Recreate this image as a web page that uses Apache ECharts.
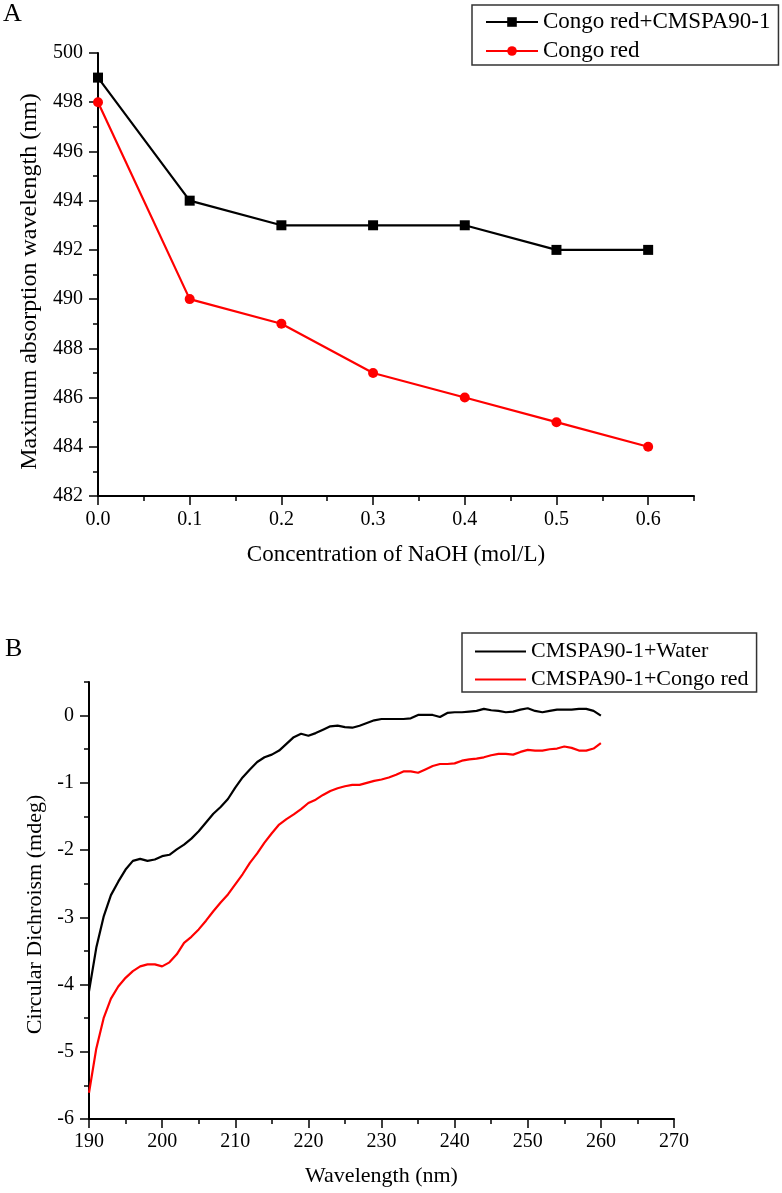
<!DOCTYPE html>
<html>
<head>
<meta charset="utf-8">
<script src="https://cdn.jsdelivr.net/npm/echarts@6/dist/echarts.min.js"></script>
<style>
  html, body { margin: 0; padding: 0; background: #fff; }
  #chart { width: 782px; height: 1193px; }
</style>
</head>
<body>
<div id="chart"></div>
<script>
// panel A : max absorption wavelength vs NaOH
var naoh = [0, 0.1, 0.2, 0.3, 0.4, 0.5, 0.6];
var congoCmspa = [499, 494, 493, 493, 493, 492, 492];
var congoOnly = [498, 490, 489, 487, 486, 485, 484];
var naohTicks = [0, 0.1, 0.2, 0.3, 0.4, 0.5, 0.6];

// panel B : CD spectra
var wavelength = [190, 191, 192, 193, 194, 195, 196, 197, 198, 199,
  200, 201, 202, 203, 204, 205, 206, 207, 208, 209,
  210, 211, 212, 213, 214, 215, 216, 217, 218, 219,
  220, 221, 222, 223, 224, 225, 226, 227, 228, 229,
  230, 231, 232, 233, 234, 235, 236, 237, 238, 239,
  240, 241, 242, 243, 244, 245, 246, 247, 248, 249,
  250, 251, 252, 253, 254, 255, 256, 257, 258, 259, 260];
var cdWater = [-4.10, -3.45, -2.99, -2.67, -2.47, -2.29, -2.16, -2.13, -2.16, -2.14,
  -2.09, -2.07, -1.99, -1.92, -1.83, -1.72, -1.59, -1.46, -1.36, -1.24,
  -1.07, -0.92, -0.80, -0.69, -0.62, -0.58, -0.52, -0.42, -0.32, -0.27,
  -0.30, -0.26, -0.21, -0.16, -0.15, -0.17, -0.18, -0.15, -0.11, -0.07,
  -0.05, -0.05, -0.05, -0.05, -0.04, 0.01, 0.01, 0.01, -0.02, 0.04,
  0.05, 0.05, 0.06, 0.07, 0.10, 0.08, 0.07, 0.05, 0.06, 0.09,
  0.11, 0.07, 0.05, 0.07, 0.09, 0.09, 0.09, 0.10, 0.10, 0.07, 0.00];
var cdCongo = [-5.61, -4.95, -4.50, -4.21, -4.03, -3.90, -3.80, -3.73, -3.70, -3.70,
  -3.73, -3.67, -3.55, -3.38, -3.29, -3.18, -3.05, -2.91, -2.78, -2.66,
  -2.51, -2.36, -2.19, -2.05, -1.89, -1.75, -1.62, -1.54, -1.47, -1.39,
  -1.30, -1.25, -1.18, -1.12, -1.08, -1.05, -1.03, -1.03, -1.00, -0.97,
  -0.95, -0.92, -0.88, -0.83, -0.83, -0.85, -0.80, -0.75, -0.72, -0.72,
  -0.71, -0.67, -0.65, -0.64, -0.62, -0.59, -0.57, -0.57, -0.58, -0.54,
  -0.51, -0.52, -0.52, -0.50, -0.49, -0.46, -0.48, -0.52, -0.52, -0.49, -0.41];
var cdTicks = [-6, -5, -4, -3, -2, -1, 0];

function pairs(xs, ys) {
  return xs.map(function (x, i) { return [x, ys[i]]; });
}

var font = 'Liberation Serif';
var axisLine = { show: true, onZero: false, lineStyle: { color: '#000', width: 2 } };
var tickStyle = { color: '#000', width: 1.5 };
var labelStyle = { color: '#000', fontSize: 20, fontFamily: font };

var option = {
  animation: false,
  textStyle: { fontFamily: font, color: '#000' },
  title: [
    { text: 'A', left: 3, top: 1, padding: 0, textStyle: { fontSize: 26, fontWeight: 'normal', fontFamily: font, color: '#000' } },
    { text: 'B', left: 5, top: 636, padding: 0, textStyle: { fontSize: 26, fontWeight: 'normal', fontFamily: font, color: '#000' } }
  ],
  legend: [
    {
      orient: 'vertical', left: 472, top: 5,
      padding: [4, 8, 1, 13], itemGap: 3,
      itemWidth: 52, itemHeight: 12,
      borderColor: '#333', borderWidth: 1.5,
      selectedMode: false,
      textStyle: { fontSize: 23, lineHeight: 26, fontFamily: font, color: '#000' },
      data: ['Congo red+CMSPA90-1', 'Congo red']
    },
    {
      orient: 'vertical', left: 462, top: 633,
      padding: [6, 8, 0, 13], itemGap: 3,
      itemWidth: 51, itemHeight: 2,
      borderColor: '#333', borderWidth: 1.5,
      selectedMode: false,
      textStyle: { fontSize: 22, lineHeight: 25, fontFamily: font, color: '#000' },
      data: [
        { name: 'CMSPA90-1+Water', icon: 'rect' },
        { name: 'CMSPA90-1+Congo red', icon: 'rect' }
      ]
    }
  ],
  grid: [
    { left: 98, top: 53, width: 596, height: 443 },
    { left: 89, top: 682, width: 585, height: 437 }
  ],
  xAxis: [
    {
      gridIndex: 0, type: 'value', min: 0, max: 0.65, interval: 0.05,
      axisLine: axisLine, splitLine: { show: false },
      axisTick: { length: 5, lineStyle: tickStyle },
      axisLabel: { show: false }
    },
    {
      gridIndex: 0, type: 'value', min: 0, max: 0.65, position: 'bottom',
      axisLine: { show: false, onZero: false }, splitLine: { show: false },
      axisTick: { customValues: naohTicks, length: 9, lineStyle: tickStyle },
      axisLabel: Object.assign({ customValues: naohTicks, margin: 14, formatter: function (v) { return v.toFixed(1); } }, labelStyle),
      name: 'Concentration of NaOH (mol/L)', nameLocation: 'middle', nameGap: 47,
      nameTextStyle: { fontSize: 23, fontFamily: font, color: '#000' }
    },
    {
      gridIndex: 1, type: 'value', min: 190, max: 270, interval: 10,
      axisLine: axisLine, splitLine: { show: false },
      axisTick: { length: 9, lineStyle: tickStyle },
      minorTick: { show: true, splitNumber: 2, length: 5, lineStyle: tickStyle },
      axisLabel: Object.assign({ margin: 13 }, labelStyle),
      name: 'Wavelength (nm)', nameLocation: 'middle', nameGap: 46,
      nameTextStyle: { fontSize: 22, fontFamily: font, color: '#000' }
    }
  ],
  yAxis: [
    {
      gridIndex: 0, type: 'value', min: 482, max: 500, interval: 2,
      axisLine: axisLine, splitLine: { show: false },
      axisTick: { length: 9, lineStyle: tickStyle },
      minorTick: { show: true, splitNumber: 2, length: 5, lineStyle: tickStyle },
      axisLabel: Object.assign({ margin: 15 }, labelStyle),
      name: 'Maximum absorption wavelength (nm)', nameLocation: 'middle', nameGap: 53,
      nameTextStyle: { fontSize: 24, fontFamily: font, color: '#000', padding: [0, 14, 0, 0] }
    },
    {
      gridIndex: 1, type: 'value', min: -6, max: 0.5, interval: 0.5,
      axisLine: axisLine, splitLine: { show: false },
      axisTick: { length: 5, lineStyle: tickStyle },
      axisLabel: { show: false }
    },
    {
      gridIndex: 1, type: 'value', min: -6, max: 0.5, position: 'left',
      axisLine: { show: false, onZero: false }, splitLine: { show: false },
      axisTick: { customValues: cdTicks, length: 9, lineStyle: tickStyle },
      axisLabel: Object.assign({ customValues: cdTicks, margin: 15 }, labelStyle),
      name: 'Circular Dichroism (mdeg)', nameLocation: 'middle', nameGap: 37,
      nameTextStyle: { fontSize: 22, fontFamily: font, color: '#000', padding: [0, 28, 0, 0] }
    }
  ],
  series: [
    {
      name: 'Congo red+CMSPA90-1', type: 'line', xAxisIndex: 0, yAxisIndex: 0,
      symbol: 'rect', symbolSize: 10,
      lineStyle: { color: '#000', width: 2.2 }, itemStyle: { color: '#000' },
      data: pairs(naoh, congoCmspa)
    },
    {
      name: 'Congo red', type: 'line', xAxisIndex: 0, yAxisIndex: 0,
      symbol: 'circle', symbolSize: 10,
      lineStyle: { color: '#ff0000', width: 2.2 }, itemStyle: { color: '#ff0000' },
      data: pairs(naoh, congoOnly)
    },
    {
      name: 'CMSPA90-1+Water', type: 'line', xAxisIndex: 2, yAxisIndex: 1,
      showSymbol: false, symbol: 'none',
      lineStyle: { color: '#000', width: 2.2 }, itemStyle: { color: '#000' },
      data: pairs(wavelength, cdWater)
    },
    {
      name: 'CMSPA90-1+Congo red', type: 'line', xAxisIndex: 2, yAxisIndex: 1,
      showSymbol: false, symbol: 'none',
      lineStyle: { color: '#ff0000', width: 2.2 }, itemStyle: { color: '#ff0000' },
      data: pairs(wavelength, cdCongo)
    }
  ]
};

echarts.init(document.getElementById('chart')).setOption(option);
</script>
</body>
</html>
